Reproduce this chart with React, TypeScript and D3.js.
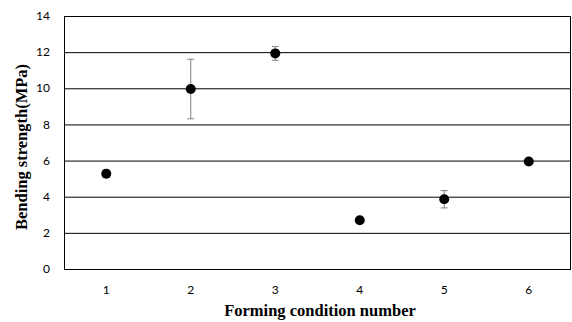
import React from 'react'
import * as d3 from 'd3'

// Forming condition numbers and the measured bending strength (MPa)
const conditions = ['1', '2', '3', '4', '5', '6']
const strength = [5.27, 9.96, 11.93, 2.7, 3.86, 5.95]
const errors = [0.2, 1.65, 0.38, 0.08, 0.48, 0.08]
const yTicks = [0, 2, 4, 6, 8, 10, 12, 14]

const W = 572
const H = 322
const margin = { top: 16, right: 1, bottom: 53, left: 64 }

const App: React.FC = () => {
  const x = d3.scaleBand<string>()
    .domain(conditions)
    .range([margin.left, W - margin.right])
  const y = d3.scaleLinear()
    .domain([0, 14])
    .range([H - margin.bottom, margin.top])

  const tickFont = 'Lato, "Open Sans", sans-serif'
  const titleFont = '"Liberation Serif", "DejaVu Serif", serif'

  return (
    <svg width={W} height={H} style={{ position: 'absolute', left: 0, top: 0, background: '#fff' }}>
      {/* Horizontal gridlines */}
      {yTicks.map(t => (
        <line key={t} x1={margin.left} x2={W - margin.right} y1={y(t) + 0.5} y2={y(t) + 0.5}
          stroke="#000" strokeWidth={1} />
      ))}
      {/* Plot border */}
      <rect x={margin.left + 0.5} y={y(14) + 0.5} width={W - margin.right - margin.left - 1}
        height={y(0) - y(14)} fill="none" stroke="#000" strokeWidth={1} />

      {/* Y tick labels */}
      {yTicks.map(t => (
        <text key={t} x={50} y={y(t)} dy="0.35em" textAnchor="end" fontSize={12}
          fontFamily={tickFont} fill="#000">{t}</text>
      ))}
      {/* X tick labels */}
      {conditions.map(c => (
        <text key={c} x={(x(c) ?? 0) + x.bandwidth() / 2} y={y(0) + 25} textAnchor="middle"
          fontSize={12} fontFamily={tickFont} fill="#000">{c}</text>
      ))}

      {/* Error bars */}
      {conditions.map((c, i) => {
        const cx = (x(c) ?? 0) + x.bandwidth() / 2
        const top = y(strength[i] + errors[i])
        const bot = y(strength[i] - errors[i])
        return (
          <g key={c} stroke="#808080" strokeWidth={1}>
            <line x1={cx} x2={cx} y1={top} y2={bot} />
            <line x1={cx - 3.5} x2={cx + 3.5} y1={top} y2={top} />
            <line x1={cx - 3.5} x2={cx + 3.5} y1={bot} y2={bot} />
          </g>
        )
      })}

      {/* Points */}
      {conditions.map((c, i) => (
        <circle key={c} cx={(x(c) ?? 0) + x.bandwidth() / 2} cy={y(strength[i])} r={5} fill="#000" />
      ))}

      {/* Axis titles */}
      <text x={320} y={316} textAnchor="middle" fontSize={16.5}
        fontWeight="bold" fontFamily={titleFont} fill="#000">Forming condition number</text>
      <text transform={`translate(27,147) rotate(-90)`} textAnchor="middle"
        fontSize={16.5} fontWeight="bold" fontFamily={titleFont} fill="#000">Bending strength(MPa)</text>
    </svg>
  )
}

export default App
